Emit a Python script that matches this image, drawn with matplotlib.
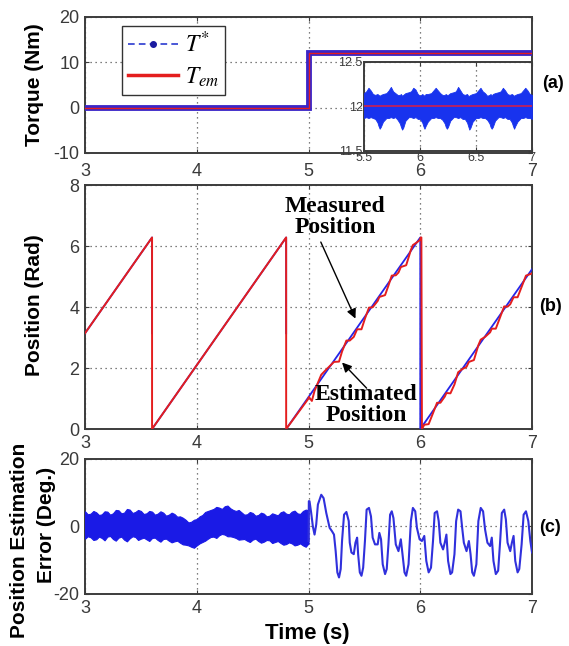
import numpy as np
import matplotlib
matplotlib.use("Agg")
import matplotlib.pyplot as plt
from matplotlib.lines import Line2D

plt.rcParams['font.family'] = ['Liberation Sans', 'DejaVu Sans']
plt.rcParams['mathtext.fontset'] = 'stix'
plt.rcParams['axes.unicode_minus'] = False

# ---------------- data ----------------
# (a) torque
torque_t = [3.0, 5.0, 5.0, 7.0]
torque_ref = [0.0, 0.0, 12.0, 12.0]      # T*
torque_em = [0.0, 0.0, 12.0, 12.0]       # Tem

# (a) inset ripple envelope (Nm)
inset_t = [5.50,
           5.52, 5.54, 5.56, 5.58, 5.60, 5.62, 5.63, 5.64, 5.65, 5.67, 5.70,
           5.72, 5.74, 5.76, 5.78, 5.80, 5.82, 5.83, 5.84, 5.85, 5.87, 5.90,
           5.92, 5.94, 5.96, 5.98, 6.00, 6.02, 6.03, 6.04, 6.05, 6.07, 6.10,
           6.12, 6.14, 6.16, 6.18, 6.20, 6.22, 6.23, 6.24, 6.25, 6.27, 6.30,
           6.32, 6.34, 6.36, 6.38, 6.40, 6.42, 6.43, 6.44, 6.45, 6.47, 6.50,
           6.52, 6.54, 6.56, 6.58, 6.60, 6.62, 6.63, 6.64, 6.65, 6.67, 6.70,
           6.72, 6.74, 6.76, 6.78, 6.80, 6.82, 6.83, 6.84, 6.85, 6.87, 6.90,
           6.92, 6.94, 6.96, 6.98, 7.00]
inset_upper = [12.15,
               12.17, 12.21, 12.18, 12.14, 12.13, 12.14, 12.13, 12.12, 12.13, 12.14, 12.15,
               12.18, 12.22, 12.17, 12.15, 12.13, 12.13, 12.14, 12.12, 12.13, 12.15, 12.16,
               12.17, 12.21, 12.19, 12.14, 12.12, 12.14, 12.13, 12.12, 12.14, 12.14, 12.15,
               12.18, 12.21, 12.18, 12.15, 12.13, 12.13, 12.14, 12.13, 12.13, 12.15, 12.16,
               12.17, 12.22, 12.18, 12.14, 12.13, 12.14, 12.12, 12.12, 12.13, 12.14, 12.15,
               12.18, 12.21, 12.17, 12.15, 12.12, 12.13, 12.14, 12.12, 12.14, 12.15, 12.16,
               12.17, 12.21, 12.18, 12.14, 12.13, 12.14, 12.13, 12.12, 12.13, 12.14, 12.15,
               12.18, 12.21, 12.18, 12.14, 12.13]
inset_lower = [11.87,
               11.88, 11.87, 11.88, 11.87, 11.86, 11.82, 11.78, 11.75, 11.77, 11.83, 11.87,
               11.87, 11.88, 11.87, 11.88, 11.85, 11.81, 11.77, 11.74, 11.76, 11.84, 11.88,
               11.88, 11.87, 11.88, 11.86, 11.86, 11.82, 11.78, 11.75, 11.78, 11.83, 11.87,
               11.87, 11.88, 11.87, 11.87, 11.85, 11.81, 11.77, 11.75, 11.77, 11.84, 11.88,
               11.88, 11.87, 11.88, 11.86, 11.86, 11.82, 11.78, 11.74, 11.76, 11.83, 11.87,
               11.87, 11.88, 11.87, 11.87, 11.85, 11.81, 11.77, 11.75, 11.77, 11.84, 11.88,
               11.88, 11.87, 11.88, 11.86, 11.86, 11.82, 11.78, 11.75, 11.78, 11.83, 11.87,
               11.87, 11.88, 11.87, 11.87, 11.86]
inset_ref = [12.0, 12.0]
inset_ref_t = [5.5, 7.0]

# (b) measured position (rad)
meas_t = [3.0, 3.6, 3.6, 3.6, 3.6, 4.8, 4.8, 4.8, 4.8, 6.0, 6.0, 7.0]
meas_pos = [3.14, 6.28, 3.14, np.nan, 0.0, 6.28, 3.14, np.nan, 0.0, 6.28, 0.0, 5.24]

# (b) estimated position (rad)
est_t = [3.0, 3.6, 3.6, 4.8, 4.8, 5.0, 5.003, 5.03, 5.054, 5.114, 5.159, 5.228, 5.273,
         5.300, 5.339, 5.369, 5.405, 5.435, 5.474, 5.505, 5.541, 5.574, 5.619, 5.634,
         5.685, 5.715, 5.745, 5.781, 5.805, 5.826, 5.874, 5.916, 5.934, 5.970, 5.994,
         6.005, 6.01, 6.015, 6.036, 6.075, 6.114, 6.150, 6.180, 6.219, 6.234, 6.270,
         6.306, 6.339, 6.375, 6.414, 6.435, 6.480, 6.520, 6.541, 6.580, 6.625, 6.640,
         6.676, 6.715, 6.751, 6.781, 6.805, 6.835, 6.871, 6.907, 6.946, 6.985, 7.0]
est_pos = [3.14, 6.28, 0.0, 6.28, 0.0, 1.0, 1.05, 0.92, 1.25, 1.78, 1.95, 2.20, 2.21,
           2.54, 2.90, 2.90, 3.02, 3.27, 3.27, 3.62, 3.98, 3.99, 4.20, 4.33,
           4.39, 4.70, 5.03, 5.04, 5.13, 5.31, 5.37, 5.87, 6.03, 6.12, 6.19,
           6.28, 6.28, 0.0, 0.14, 0.16, 0.52, 0.86, 0.86, 1.06, 1.18, 1.17,
           1.46, 1.86, 1.96, 2.04, 2.20, 2.26, 2.75, 2.93, 3.02, 3.17, 3.29,
           3.29, 3.67, 4.02, 4.01, 4.09, 4.32, 4.32, 4.66, 5.03, 5.08, 5.10]

# (c) estimation error before load step: noise envelope (deg)
err_band_t = [3.00, 3.025, 3.05, 3.075, 3.10, 3.125, 3.15, 3.175, 3.20, 3.225, 3.25, 3.275,
              3.30, 3.325, 3.35, 3.375, 3.40, 3.425, 3.45, 3.475, 3.50, 3.525, 3.55, 3.575,
              3.60, 3.625, 3.65, 3.675, 3.70, 3.725, 3.75, 3.775, 3.80, 3.825, 3.85, 3.875,
              3.90, 3.925, 3.95, 3.975, 4.00, 4.025, 4.05, 4.075, 4.10, 4.125, 4.15, 4.175,
              4.20, 4.225, 4.25, 4.275, 4.30, 4.325, 4.35, 4.375, 4.40, 4.425, 4.45, 4.475,
              4.50, 4.525, 4.55, 4.575, 4.60, 4.625, 4.65, 4.675, 4.70, 4.725, 4.75, 4.775,
              4.80, 4.825, 4.85, 4.875, 4.90, 4.925, 4.95, 4.975, 5.00]
err_band_up = [4.5, 3.6, 3.8, 4.6, 4.2, 3.4, 3.6, 4.5, 4.4, 3.5, 3.9, 4.9,
               4.8, 3.9, 4.1, 5.2, 5.0, 4.0, 4.3, 4.9, 4.6, 3.7, 3.9, 4.6,
               4.4, 3.5, 3.8, 4.5, 4.1, 3.2, 3.5, 4.1, 3.7, 2.9, 3.0, 2.6,
               2.0, 1.2, 1.4, 2.0, 2.2, 3.0, 3.4, 4.3, 4.6, 4.9, 5.2, 5.8,
               5.6, 5.2, 6.0, 6.2, 5.4, 4.9, 4.6, 4.9, 4.2, 3.5, 3.6, 4.3,
               4.0, 3.2, 3.4, 4.1, 3.8, 3.0, 3.2, 3.9, 3.6, 3.3, 4.2, 4.5,
               3.8, 3.6, 4.4, 4.7, 3.9, 3.7, 4.6, 5.0, 4.8]
err_band_lo = [-3.6, -2.9, -3.2, -4.0, -3.8, -3.0, -3.4, -4.1, -3.0, -2.8, -3.7, -4.2,
               -3.3, -3.0, -3.9, -4.4, -3.5, -2.9, -3.1, -4.0, -3.6, -3.3, -3.8, -4.3,
               -3.4, -3.3, -4.0, -4.5, -3.7, -3.6, -4.2, -4.7, -4.4, -4.2, -4.8, -5.3,
               -5.4, -5.6, -6.0, -6.3, -5.6, -5.0, -4.6, -4.2, -3.6, -3.1, -3.0, -3.4,
               -2.6, -2.2, -2.4, -2.9, -2.9, -3.1, -3.4, -3.9, -3.8, -3.7, -4.2, -4.6,
               -3.9, -3.6, -4.3, -4.8, -4.5, -4.0, -4.1, -4.9, -4.6, -4.3, -4.9, -5.4,
               -5.2, -4.7, -5.0, -5.6, -5.4, -5.0, -5.6, -6.0, -5.0]

# (c) estimation error after load step (deg)
err_t = [5.000, 5.003, 5.009, 5.024, 5.039, 5.054, 5.069, 5.084, 5.114, 5.135, 5.159,
         5.189, 5.210, 5.228, 5.243, 5.258, 5.273, 5.288, 5.300, 5.318, 5.339, 5.360,
         5.369, 5.384, 5.405, 5.420, 5.435, 5.444, 5.459, 5.474, 5.489, 5.505, 5.520,
         5.541, 5.559, 5.574, 5.595, 5.619, 5.634, 5.649, 5.664, 5.685, 5.700, 5.715,
         5.730, 5.745, 5.760, 5.781, 5.805, 5.826, 5.841, 5.859, 5.874, 5.895, 5.916,
         5.934, 5.955, 5.970, 5.994, 6.015, 6.036, 6.054, 6.075, 6.096, 6.114, 6.129,
         6.150, 6.165, 6.180, 6.204, 6.219, 6.234, 6.249, 6.270, 6.285, 6.306, 6.321,
         6.339, 6.360, 6.375, 6.390, 6.414, 6.435, 6.450, 6.465, 6.480, 6.502, 6.520,
         6.541, 6.562, 6.580, 6.601, 6.625, 6.640, 6.655, 6.676, 6.697, 6.715, 6.730,
         6.751, 6.766, 6.781, 6.805, 6.820, 6.835, 6.850, 6.871, 6.886, 6.907, 6.925,
         6.946, 6.967, 6.985, 7.000]
err_deg = [-4.3, 7.5, 7.5, 4.0, 0.0, -2.4, 0.6, 6.5, 9.4, 8.4, 4.0,
           -0.4, -1.4, -2.4, -7.3, -13.6, -15.1, -12.6, -4.3, 3.5, 4.3, 1.6,
           -4.8, -7.7, -8.2, -4.8, -3.3, -8.2, -13.6, -14.6, -12.2, -4.3, 5.0,
           5.5, 3.0, -3.3, -5.3, -5.3, -1.9, -3.8, -11.2, -14.1, -12.6, -5.3,
           3.5, 4.5, 2.5, -5.3, -7.3, -3.8, -8.2, -13.6, -14.6, -11.2, 1.6,
           5.5, 4.5, -0.4, -3.8, -4.3, -2.8, -10.2, -13.6, -12.2, -4.3, 4.0,
           4.5, 1.6, -4.8, -6.8, -4.8, -2.4, -10.2, -14.1, -13.6, -8.2, 1.6,
           5.0, 4.5, -0.4, -4.8, -7.3, -4.3, -8.2, -13.6, -14.6, -11.2, 1.6,
           5.5, 4.5, -0.9, -4.8, -5.8, -3.3, -10.2, -14.1, -13.1, -4.3, 4.0,
           5.0, 2.1, -4.8, -7.3, -4.8, -2.8, -10.2, -13.6, -12.6, -5.3, 3.5,
           4.5, 1.6, -4.3, -7.7]

time_ticks = [3, 4, 5, 6, 7]

# ---------------- style ----------------
TICK_COLOR = '#3a3a3a'
FRAME_COLOR = '#3c3c3c'
GRID_KW = dict(color='#555555', linestyle=(0, (1, 3)), linewidth=0.9)
BLUE = '#2424e8'
RED = '#e41e1e'


def style_axes(ax, size=13, pad=4):
    for s in ax.spines.values():
        s.set_color(FRAME_COLOR)
        s.set_linewidth(1.4)
    ax.tick_params(direction='in', length=3, width=0.8, colors=FRAME_COLOR,
                   labelcolor=TICK_COLOR, labelsize=size, top=True, right=True, pad=pad)
    ax.grid(True, **GRID_KW)
    ax.set_axisbelow(True)


fig = plt.figure(figsize=(5.69, 6.46), dpi=100)
L, W = 0.1494, 0.7856
axa = fig.add_axes([L, 0.7632, W, 0.2105])
axb = fig.add_axes([L, 0.3359, W, 0.3777])
axc = fig.add_axes([L, 0.0805, W, 0.2090])
axi = fig.add_axes([0.6397, 0.7663, 0.2953, 0.1378])

# ---- (a) ----
axa.plot(torque_t, torque_ref, color='#3a26c8', lw=4.2, solid_joinstyle='miter', zorder=3)
axa.plot(torque_t, torque_em, color=RED, lw=1.0, zorder=4)
axa.set_xlim(3, 7)
axa.set_ylim(-10, 20)
axa.set_xticks(time_ticks)
axa.set_yticks([-10, 0, 10, 20])
style_axes(axa)
axa.tick_params(axis='x', pad=7)
handles = [Line2D([], [], color='#2b3bd0', lw=1.2, ls=(0, (4, 2.5)), marker='o', ms=4,
                  markevery=[1], markerfacecolor='#1a1aa0', markeredgecolor='#1a1aa0'),
           Line2D([], [], color=RED, lw=2.5)]
leg = axa.legend(handles, [r'$T^{*}$', r'$T_{em}$'], loc='upper left',
                 bbox_to_anchor=(0.083, 0.935), prop={'size': 17},
                 handlelength=2.1, handletextpad=0.3, borderpad=0.25,
                 labelspacing=0.35, fancybox=False, framealpha=1, borderaxespad=0)
leg.get_frame().set_edgecolor('#333333')
leg.get_frame().set_linewidth(1.0)
leg.set_zorder(6)

# inset
axi.fill_between(inset_t, inset_lower, inset_upper, color='#1833ee', lw=0.6,
                 edgecolor='#1833ee', zorder=3)
axi.plot(inset_ref_t, inset_ref, color='#c0205a', lw=1.3, zorder=4)
axi.set_xlim(5.5, 7)
axi.set_ylim(11.5, 12.5)
axi.set_xticks([5.5, 6, 6.5, 7])
axi.set_xticklabels(['5.5', '6', '6.5', '7'])
axi.set_yticks([11.5, 12, 12.5])
axi.set_yticklabels(['11.5', '12', '12.5'])
style_axes(axi, size=9, pad=1)
axi.set_zorder(5)

# ---- (b) ----
axb.plot(meas_t, meas_pos, color=BLUE, lw=1.3, zorder=3)
axb.plot(est_t, est_pos, color=RED, lw=1.4, zorder=4)
axb.set_xlim(3, 7)
axb.set_ylim(0, 8)
axb.set_xticks(time_ticks)
axb.set_yticks([0, 2, 4, 6, 8])
style_axes(axb)
ann_font = dict(family=['Liberation Serif', 'DejaVu Serif'], weight='bold', size=17)
axb.text(5.24, 6.95, 'Measured\nPosition', ha='center', va='center',
         linespacing=1.05, zorder=6, **ann_font)
axb.annotate('', xy=(5.42, 3.62), xytext=(5.11, 6.13),
             arrowprops=dict(arrowstyle='-|>', color='black', lw=1.0,
                             mutation_scale=14, shrinkA=0, shrinkB=0), zorder=6)
axb.text(5.515, 0.79, 'Estimated\nPosition', ha='center', va='center',
         linespacing=1.05, zorder=6, **ann_font)
axb.annotate('', xy=(5.30, 2.18), xytext=(5.52, 1.34),
             arrowprops=dict(arrowstyle='-|>', color='black', lw=1.0,
                             mutation_scale=14, shrinkA=0, shrinkB=0), zorder=6)

# ---- (c) ----
axc.fill_between(err_band_t, err_band_lo, err_band_up, color='#1a1ae6',
                 edgecolor='#1a1ae6', lw=0.8, zorder=3)
axc.plot(err_t, err_deg, color='#3030dc', lw=1.5, zorder=3)
axc.set_xlim(3, 7)
axc.set_ylim(-20, 20)
axc.set_xticks(time_ticks)
axc.set_yticks([-20, 0, 20])
style_axes(axc)

# ---- labels ----
lab = dict(weight='bold', size=15, rotation=90, ha='center', va='center')
fig.text(35 / 569, 1 - 85 / 646, 'Torque (Nm)', **lab)
fig.text(35 / 569, 1 - 305 / 646, 'Position (Rad)', **lab)
fig.text(20 / 569, 1 - 540 / 646, 'Position Estimation', **lab)
fig.text(47 / 569, 1 - 525 / 646, 'Error (Deg.)', **lab)
fig.text(307 / 569, 1 - 633 / 646, 'Time (s)', weight='bold', size=16,
         ha='center', va='center')
tag = dict(weight='bold', size=13, ha='center', va='center')
fig.text(553 / 569, 1 - 83 / 646, '(a)', **tag)
fig.text(550 / 569, 1 - 307 / 646, '(b)', **tag)
fig.text(550 / 569, 1 - 527 / 646, '(c)', **tag)

fig.savefig('out.png', dpi=100)
